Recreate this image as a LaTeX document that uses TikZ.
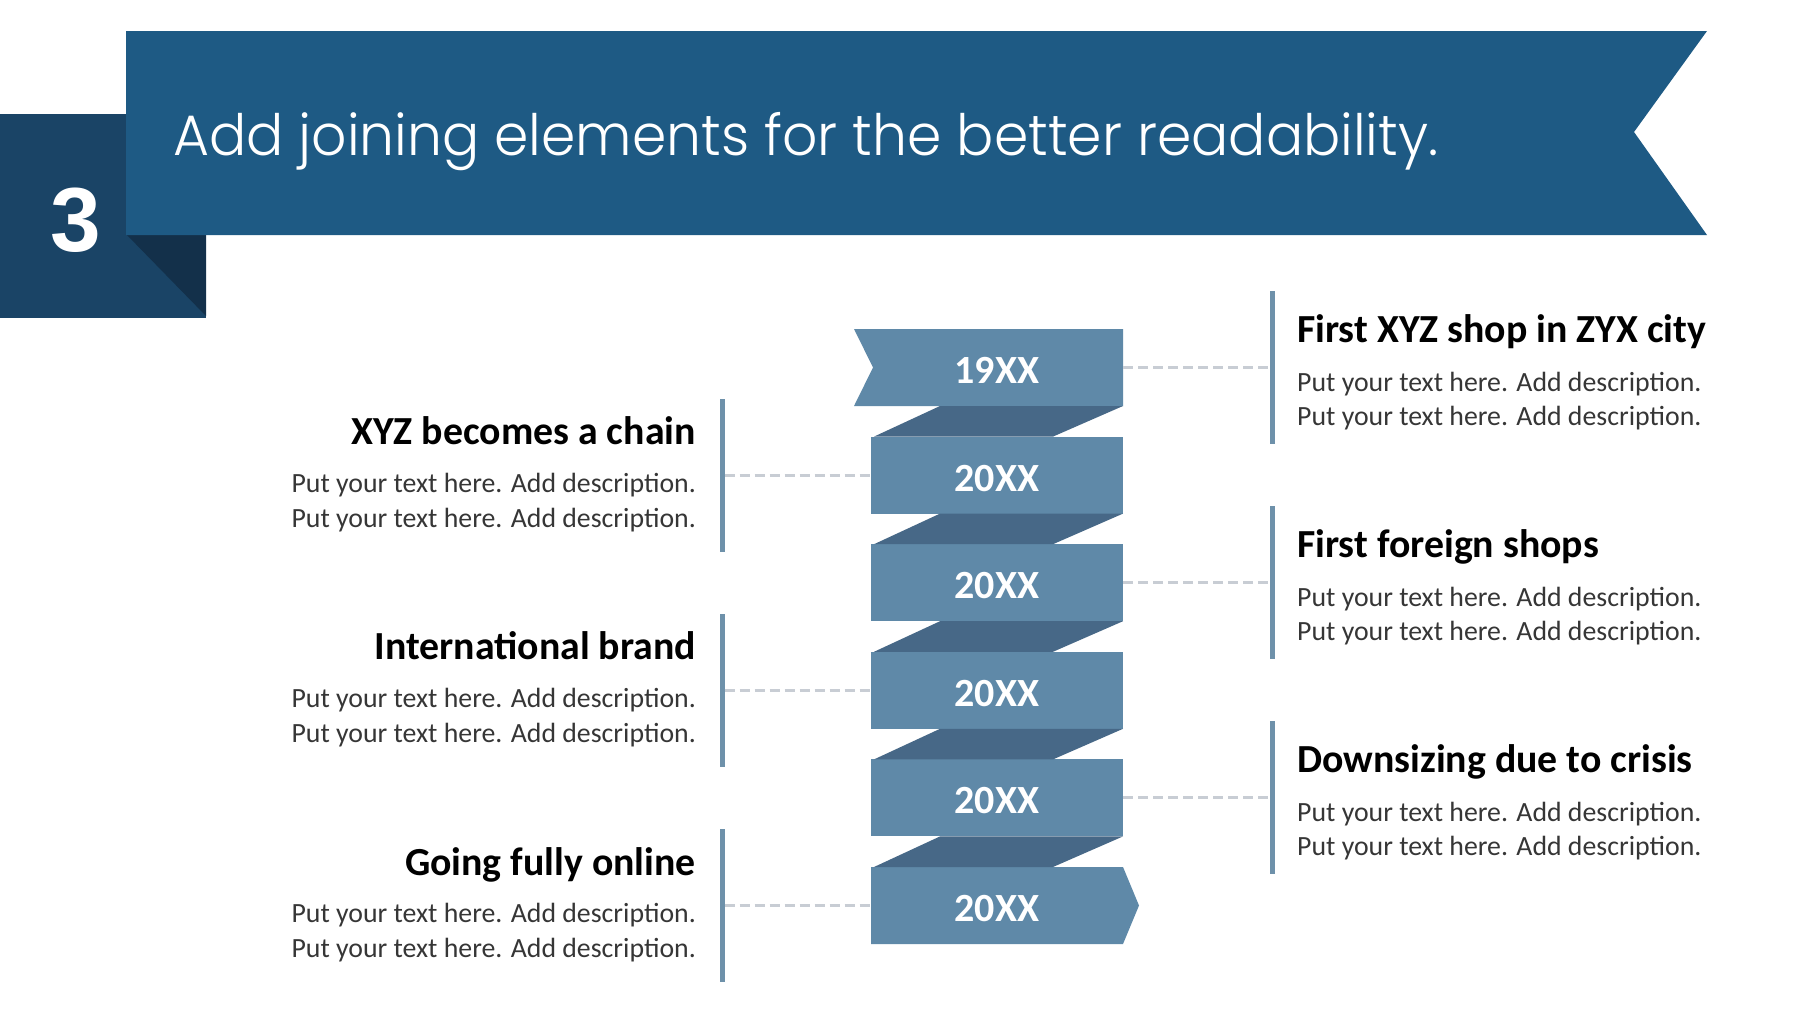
\documentclass[tikz,border=0pt]{standalone}
\usepackage{fontspec}
\setmainfont{Carlito}
\IfFontExistsTF{Poppins Light}{\newfontfamily\titlefont{Poppins Light}}{\newfontfamily\titlefont{Poppins}}
\newfontfamily\numfont{Liberation Sans}
\definecolor{bannerc}{HTML}{1E5A84}
\definecolor{squarec}{HTML}{1A4466}
\definecolor{shadec}{HTML}{13304A}
\definecolor{boxc}{HTML}{5F89A8}
\definecolor{foldc}{HTML}{476887}
\definecolor{barc}{HTML}{6E91AA}
\definecolor{dashc}{HTML}{C8CDD4}
\definecolor{descc}{HTML}{363636}
\tikzset{
  lbl/.style={minimum width=252pt, minimum height=77pt, inner sep=0pt, text=white,
    font=\bfseries\fontsize{40}{42}\selectfont},
  lbltext/.style={inner sep=0pt, text=white, font=\bfseries\fontsize{40}{42}\selectfont},
  vbar/.style={fill=barc, minimum width=5pt, minimum height=153pt, inner sep=0pt},
  joinline/.style={draw=dashc, line width=3pt, dash pattern=on 10pt off 5pt},
  headl/.style={inner sep=0pt, text=black, font=\bfseries\fontsize{39.8}{42}\selectfont},
  descl/.style={inner sep=0pt, text=descc, font=\fontsize{27.8}{30}\selectfont},
}
\begin{document}
\begin{tikzpicture}[x=1pt,y=-1pt]
\useasboundingbox (0,0) rectangle (1794,1009);
\fill[white] (0,0) rectangle (1794,1009);
% header
\fill[squarec] (0,114) rectangle (206,318);
\fill[shadec] (126,234) -- (206,234) -- (206,316) -- cycle;
\fill[bannerc] (126,31) -- (1707,31) -- (1634,132) -- (1707,235) -- (126,235) -- cycle;
\node[inner sep=0pt, text=white, font=\numfont\bfseries\fontsize{91}{91}\selectfont] (num) at (76,220) {3};
\node[inner sep=0pt, anchor=base west, text=white] (title) at (173,155)
  {\resizebox{1265pt}{\height}{\titlefont\fontsize{57}{60}\selectfont Add joining elements for the better readability.}};
% ribbon
\fill[boxc] (854,329) -- (1123,329) -- (1123,406) -- (854,406) -- (873,367.5) -- cycle;
\foreach \i in {1,2,3,4} {
  \pgfmathsetmacro\t{329+107.6*\i}
  \fill[boxc] (871,\t) rectangle (1123,\t+77);
}
\fill[boxc] (871,867) -- (1123,867) -- (1139,905.5) -- (1123,944) -- (871,944) -- cycle;
\foreach \i in {0,1,2,3,4} {
  \pgfmathsetmacro\b{329+107.6*\i+77}
  \pgfmathsetmacro\n{329+107.6*(\i+1)}
  \fill[foldc] (940,\b) -- (1123,\b) -- (1053,\n) -- (874,\n) -- cycle;
}
\node[lbl] (b0) at (997,367.5) {};
\node[lbl] (b1) at (997,475.1) {};
\node[lbl] (b2) at (997,582.7) {};
\node[lbl] (b3) at (997,690.3) {};
\node[lbl] (b4) at (997,797.9) {};
\node[lbl] (b5) at (997,905.5) {};
\node[lbltext] (t0) at ([yshift=-3pt]b0.center) {19XX};
\node[lbltext] (t1) at ([yshift=-3pt]b1.center) {20XX};
\node[lbltext] (t2) at ([yshift=-3pt]b2.center) {20XX};
\node[lbltext] (t3) at ([yshift=-3pt]b3.center) {20XX};
\node[lbltext] (t4) at ([yshift=-3pt]b4.center) {20XX};
\node[lbltext] (t5) at ([yshift=-3pt]b5.center) {20XX};
% bars
\node[vbar] (l1) at (722,475.1) {};
\node[vbar] (l2) at (722,690.3) {};
\node[vbar] (l3) at (722,905.5) {};
\node[vbar] (r1) at (1272,367.5) {};
\node[vbar] (r2) at (1272,582.7) {};
\node[vbar] (r3) at (1272,797.9) {};
% connectors
\draw[joinline] (l1.east) -- (b1.west);
\draw[joinline] (l2.east) -- (b3.west);
\draw[joinline] (l3.east) -- (b5.west);
\draw[joinline] (b0.east) -- (r1.west);
\draw[joinline] (b2.east) -- (r2.west);
\draw[joinline] (b4.east) -- (r3.west);
% left texts
\node[headl, anchor=base east] (lt1) at (696,444.6) {XYZ becomes a chain};
\node[descl, anchor=base east] (ld1a) at (696,492.1) {Put your text here. Add description.};
\node[descl, anchor=base east] (ld1b) at (696,527.1) {Put your text here. Add description.};
\node[headl, anchor=base east] (lt2) at (696,659.8) {International brand};
\node[descl, anchor=base east] (ld2a) at (696,707.3) {Put your text here. Add description.};
\node[descl, anchor=base east] (ld2b) at (696,742.3) {Put your text here. Add description.};
\node[headl, anchor=base east] (lt3) at (696,875) {Going fully online};
\node[descl, anchor=base east] (ld3a) at (696,922.5) {Put your text here. Add description.};
\node[descl, anchor=base east] (ld3b) at (696,957.5) {Put your text here. Add description.};
% right texts
\node[headl, anchor=base west] (rt1) at (1297,342.5) {First XYZ shop in ZYX city};
\node[descl, anchor=base west] (rd1a) at (1297,391) {Put your text here. Add description.};
\node[descl, anchor=base west] (rd1b) at (1297,425) {Put your text here. Add description.};
\node[headl, anchor=base west] (rt2) at (1297,557.7) {First foreign shops};
\node[descl, anchor=base west] (rd2a) at (1297,606.2) {Put your text here. Add description.};
\node[descl, anchor=base west] (rd2b) at (1297,640.2) {Put your text here. Add description.};
\node[headl, anchor=base west] (rt3) at (1297,772.9) {Downsizing due to crisis};
\node[descl, anchor=base west] (rd3a) at (1297,821.4) {Put your text here. Add description.};
\node[descl, anchor=base west] (rd3b) at (1297,855.4) {Put your text here. Add description.};
\end{tikzpicture}
\end{document}
